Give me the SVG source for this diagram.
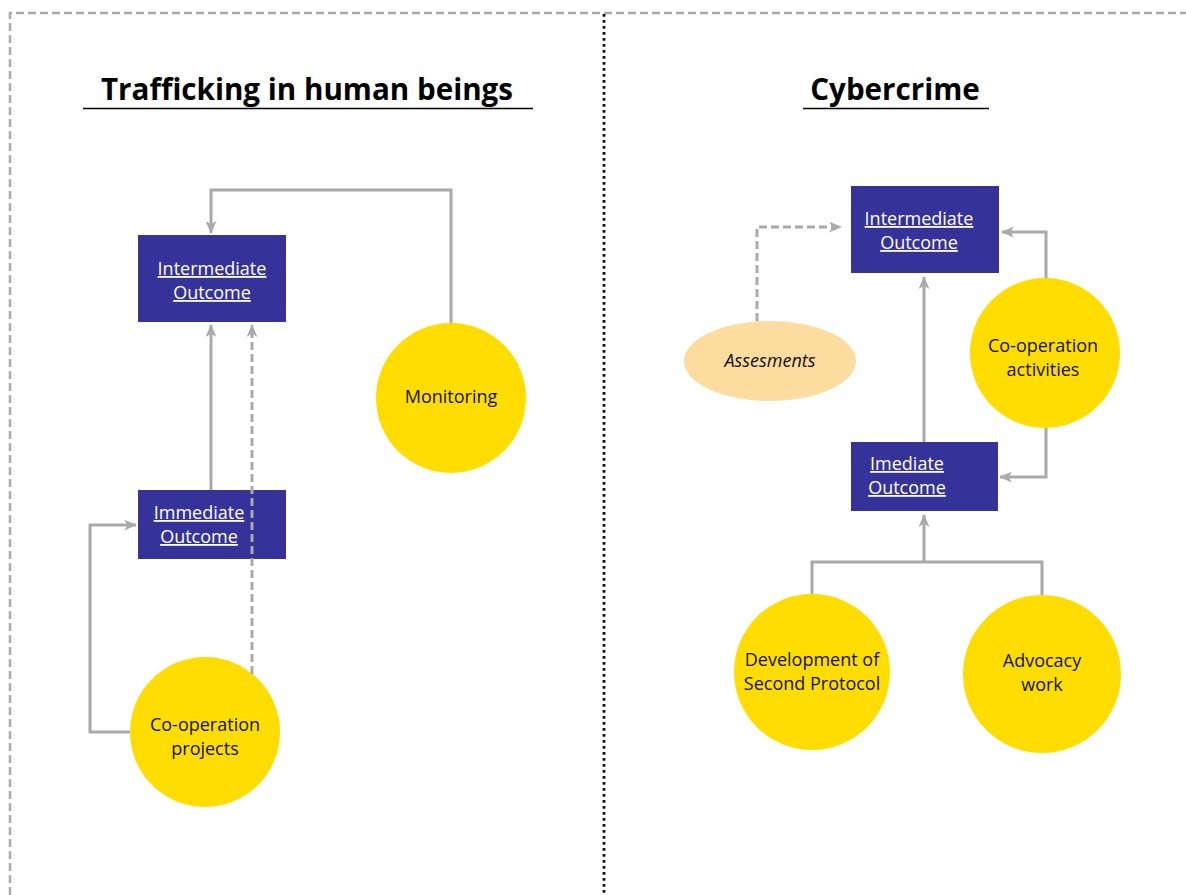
<svg xmlns="http://www.w3.org/2000/svg" width="1186" height="895" viewBox="0 0 1186 895">
  <style>
    .frame { fill: none; stroke: #aaaaaa; stroke-width: 2.5; stroke-dasharray: 8 4; }
    .divider { fill: none; stroke: #111111; stroke-width: 2.8; stroke-dasharray: 2.8 3.2; }
    .title { font-family: "Open Sans", "Liberation Sans", sans-serif; font-weight: 700; font-size: 29.6px; fill: #000000; text-anchor: middle; }
    .rule { stroke: #000000; stroke-width: 1.5; }
    .box { fill: #35339a; }
    .boxtext { font-family: "Open Sans", "Liberation Sans", sans-serif; font-size: 18px; fill: #ffffff; text-anchor: middle; text-decoration: underline; }
    .circle { fill: #ffdd00; }
    .oval { fill: #fddc9f; }
    .label { font-family: "Open Sans", "Liberation Sans", sans-serif; font-size: 18px; fill: #111111; text-anchor: middle; }
    .link { fill: none; stroke: #aaaaaa; stroke-width: 3; }
    .dashed { stroke-dasharray: 8 4; }
  </style>
  <defs>
    <marker id="arrow" viewBox="0 0 12 10" refX="11" refY="5" markerUnits="userSpaceOnUse" markerWidth="13" markerHeight="11" orient="auto">
      <path d="M0,0 L12,5 L0,10 L3,5 Z" fill="#aaaaaa"/>
    </marker>
  </defs>

  <rect width="1186" height="895" fill="#ffffff"/>

  <!-- page frame and column divider -->
  <g id="frame">
    <path class="frame" d="M10,895 L10,13 L1186,13"/>
    <line class="divider" x1="604" y1="14" x2="604" y2="895"/>
  </g>

  <!-- column titles -->
  <g id="title-trafficking">
    <text class="title" x="307" y="100">Trafficking in human beings</text>
    <line class="rule" x1="83" y1="108.5" x2="533" y2="108.5"/>
  </g>
  <g id="title-cybercrime">
    <text class="title" x="895" y="100">Cybercrime</text>
    <line class="rule" x1="803" y1="108.5" x2="989" y2="108.5"/>
  </g>

  <!-- connectors -->
  <g id="connectors">
    <!-- left column -->
    <path class="link" d="M451,323 L451,190 L211,190 L211,233" marker-end="url(#arrow)"/>
    <path class="link" d="M211,490 L211,325" marker-end="url(#arrow)"/>
    <path class="link" d="M130,732 L90,732 L90,525 L136,525" marker-end="url(#arrow)"/>
    <!-- right column -->
    <path class="link dashed" d="M757,321 L757,227 L841,227" marker-end="url(#arrow)"/>
    <path class="link" d="M1046,278 L1046,232 L1002,232" marker-end="url(#arrow)"/>
    <path class="link" d="M1046,428 L1046,477 L1000,477" marker-end="url(#arrow)"/>
    <path class="link" d="M924,442 L924,277" marker-end="url(#arrow)"/>
    <path class="link" d="M812,597 L812,562 L1042,562 L1042,598"/>
    <path class="link" d="M924,562 L924,515" marker-end="url(#arrow)"/>
  </g>

  <!-- left column nodes -->
  <g id="node-intermediate-left">
    <rect class="box" x="138" y="235" width="148" height="87"/>
    <text class="boxtext" x="212" y="275">Intermediate</text>
    <text class="boxtext" x="212" y="299">Outcome</text>
  </g>
  <g id="node-immediate-left">
    <rect class="box" x="138" y="490" width="148" height="69"/>
    <text class="boxtext" x="199" y="519">Immediate</text>
    <text class="boxtext" x="199" y="543">Outcome</text>
  </g>
  <g id="node-monitoring">
    <circle class="circle" cx="451" cy="398" r="75"/>
    <text class="label" x="451" y="403">Monitoring</text>
  </g>
  <g id="node-cooperation-projects">
    <circle class="circle" cx="205" cy="732" r="75"/>
    <text class="label" x="205" y="731">Co-operation</text>
    <text class="label" x="205" y="755">projects</text>
  </g>

  <!-- dashed link from projects runs over the immediate box -->
  <g id="connectors-overlay">
    <path class="link dashed" d="M252,674 L252,325" marker-end="url(#arrow)"/>
  </g>

  <!-- right column nodes -->
  <g id="node-intermediate-right">
    <rect class="box" x="851" y="186" width="148" height="87"/>
    <text class="boxtext" x="919" y="225">Intermediate</text>
    <text class="boxtext" x="919" y="249">Outcome</text>
  </g>
  <g id="node-imediate-right">
    <rect class="box" x="851" y="442" width="147" height="69"/>
    <text class="boxtext" x="907" y="470">Imediate</text>
    <text class="boxtext" x="907" y="494">Outcome</text>
  </g>
  <g id="node-assesments">
    <ellipse class="oval" cx="770" cy="361" rx="86" ry="40"/>
    <text class="label" x="770" y="367" font-style="italic">Assesments</text>
  </g>
  <g id="node-cooperation-activities">
    <circle class="circle" cx="1045" cy="353" r="75"/>
    <text class="label" x="1043" y="352">Co-operation</text>
    <text class="label" x="1043" y="376">activities</text>
  </g>
  <g id="node-second-protocol">
    <circle class="circle" cx="812" cy="672" r="78"/>
    <text class="label" x="812" y="666">Development of</text>
    <text class="label" x="812" y="690">Second Protocol</text>
  </g>
  <g id="node-advocacy">
    <circle class="circle" cx="1042" cy="674" r="79"/>
    <text class="label" x="1042" y="667">Advocacy</text>
    <text class="label" x="1042" y="691">work</text>
  </g>
</svg>
